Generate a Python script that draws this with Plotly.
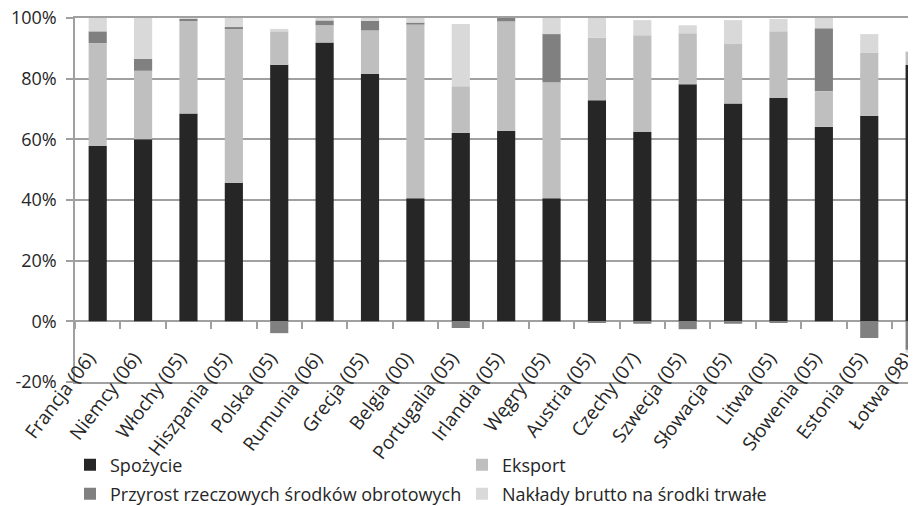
import plotly.graph_objects as go

categories = ["Francja (06)", "Niemcy (06)", "Włochy (05)", "Hiszpania (05)", "Polska (05)",
              "Rumunia (06)", "Grecja (05)", "Belgia (00)", "Portugalia (05)", "Irlandia (05)",
              "Węgry (05)", "Austria (05)", "Czechy (07)", "Szwecja (05)", "Słowacja (05)",
              "Litwa (05)", "Słowenia (05)", "Estonia (05)", "Łotwa (98)"]

spozycie = [57.8, 60.0, 68.5, 45.7, 84.6, 91.9, 81.6, 40.6, 62.1, 62.8,
            40.6, 72.9, 62.4, 78.2, 71.8, 73.6, 64.1, 67.8, 84.6]
eksport = [33.9, 22.6, 30.6, 50.7, 11.0, 5.7, 14.3, 57.2, 15.4, 36.1,
           38.2, 20.7, 31.9, 16.8, 19.6, 22.0, 11.8, 20.8, 4.3]
przyrost = [3.9, 3.9, 0.6, 0.6, -3.9, 1.6, 3.2, 0.7, -2.2, 1.1,
            15.9, -0.5, -0.8, -2.6, -0.8, -0.5, 20.7, -5.5, -9.4]
naklady = [4.4, 13.5, 0.3, 3.0, 0.8, 0.8, 0.9, 1.5, 20.5, 0.0,
           5.3, 6.4, 5.0, 2.6, 7.9, 4.1, 3.4, 6.1, -1.0]

y_tickvals = [-20, 0, 20, 40, 60, 80, 100]
y_ticktext = ["-20%", "0%", "20%", "40%", "60%", "80%", "100%"]

series = [
    ("Spożycie", spozycie, "#262626", "legend"),
    ("Eksport", eksport, "#BFBFBF", "legend"),
    ("Przyrost rzeczowych środków obrotowych", przyrost, "#808080", "legend2"),
    ("Nakłady brutto na środki trwałe", naklady, "#D9D9D9", "legend2"),
]

FONT = "Open Sans"
TXT = "#262626"
GRID = "#A0A0A0"

# the page body adds an 8 px offset; the figure is sized to fill the rest of the window
W, H = 908, 498
Y0, Y1 = -20, 100
XR = [-0.5, 18.03]

fig = go.Figure()
for name, vals, col, leg in series:
    fig.add_trace(go.Bar(x=categories, y=vals, name=name, marker_color=col,
                         marker_line_width=0, legend=leg))
# empty helper trace so the overlay axis (frame lines at -20% and 100%) is drawn
fig.add_trace(go.Scatter(x=categories, y=[None] * len(categories), xaxis="x2",
                         mode="lines", showlegend=False, hoverinfo="skip"))

leg_common = dict(orientation="h", xref="container", yref="container",
                  x=62 / W, xanchor="left", yanchor="middle",
                  entrywidth=347, entrywidthmode="pixels", font=dict(size=18, color=TXT),
                  bgcolor="rgba(0,0,0,0)", borderwidth=0)
fig.update_layout(
    template="none",
    width=W, height=H,
    margin=dict(l=67, r=0, t=10, b=124, autoexpand=False),
    paper_bgcolor="white", plot_bgcolor="white",
    barmode="relative", bargap=0.6,
    font=dict(family=FONT, size=17, color=TXT),
    showlegend=True,
    legend=dict(y=1 - 457 / H, **leg_common),
    legend2=dict(y=1 - 486 / H, **leg_common),
    xaxis=dict(type="category", range=XR, tickangle=-53,
               anchor="free", position=(0 - Y0) / (Y1 - Y0),
               tickson="boundaries", ticks="outside", ticklen=7, tickcolor=GRID, tickwidth=1.5,
               ticklabelstandoff=21, ticklabelshift=-9, ticklabeloverflow="allow",
               showgrid=False, showline=False, zeroline=False, automargin=False,
               tickfont=dict(size=19, color=TXT)),
    xaxis2=dict(type="category", overlaying="x", anchor="y", side="bottom", range=XR,
                showline=True, mirror=True, linecolor=GRID, linewidth=1.5,
                ticks="", showticklabels=False, showgrid=False, zeroline=False,
                automargin=False),
    yaxis=dict(range=[Y0, Y1], tickmode="array", tickvals=y_tickvals, ticktext=y_ticktext,
               showgrid=True, gridcolor=GRID, gridwidth=1.5, zeroline=False,
               showline=True, linecolor=GRID, linewidth=1.5,
               ticks="outside", ticklen=7, tickcolor=GRID, tickwidth=1.5,
               ticklabelstandoff=6, ticklabeloverflow="allow", automargin=False,
               tickfont=dict(size=18, color=TXT)),
)
fig.write_html("out.html")
